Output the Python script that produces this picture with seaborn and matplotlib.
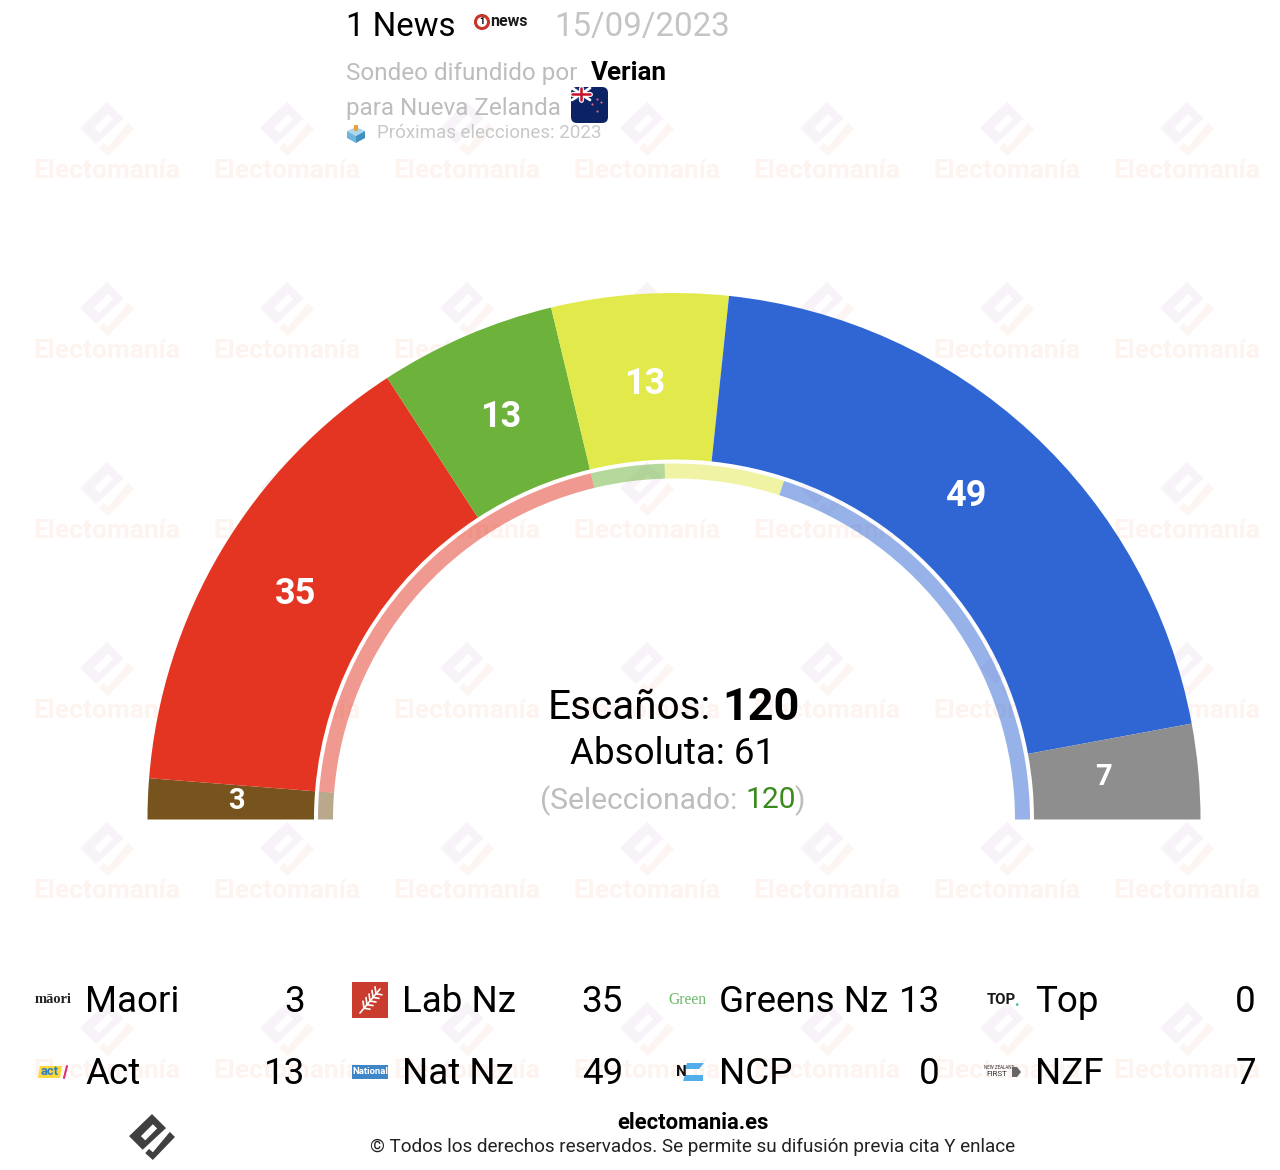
import matplotlib
matplotlib.use("Agg")
import matplotlib.pyplot as plt
import numpy as np
import seaborn as sns
from matplotlib.patches import Circle, FancyBboxPatch, Polygon, Rectangle

sns.set_theme(style="white")
plt.rcParams["font.family"] = ["Roboto", "DejaVu Sans"]

# seats, in hemicycle order
parties = ["Maori", "Lab Nz", "Greens Nz", "Act", "Nat Nz", "NCP", "Top", "NZF"]
seats = [3, 35, 13, 13, 49, 0, 0, 7]
previous_seats = [3, 48, 8, 13, 48, 0, 0, 0]
party_colors = ["#77531D", "#E33522", "#6DB33B", "#E2E94A", "#3066D4", "#D0D0D0", "#404040", "#8E8E8E"]

# legend reads by column
legend_rows = [["Maori", "Lab Nz", "Greens Nz", "Top"], ["Act", "Nat Nz", "NCP", "NZF"]]

total_seats = 120
majority = 61
selected = 120
pollster = "Verian"
media = "1 News"
poll_date = "15/09/2023"

GREY = "#BDBDBD"
palette = sns.color_palette(party_colors)
seat_lookup = dict(zip(parties, seats))

fig = plt.figure(figsize=(12.8, 11.7), dpi=100)
ax = fig.add_axes([0, 0, 1, 1])


def put(x, y, s, size, color="black", ha="left", weight="normal", z=5, **kw):
    # size in pixels, y is the visual middle of the text
    return ax.text(x, y + 2.5, s, fontsize=size * 0.72, color=color, ha=ha, va="center",
                   fontweight=weight, zorder=z, **kw)


# logo outline in pixels around its own centre
DIAMOND = [(0, -27), (16.5, -10.5), (-11, 15), (-27, -1)]
HOLE = [(-13, -1), (1, -15), (6, -10), (-8, 4)]
HOOK = [(21, -6), (27, 0), (1, 27), (-8, 19), (-3.5, 14), (1, 18)]


def draw_logo(cx, cy, scale, c1, c2, hole, z):
    shift = lambda pts: [(cx + a * scale, cy + b * scale) for a, b in pts]
    ax.add_patch(Polygon(shift(DIAMOND), fc=c1, ec="none", zorder=z))
    ax.add_patch(Polygon(shift(HOLE), fc=hole, ec="none", zorder=z))
    ax.add_patch(Polygon(shift(HOOK), fc=c2, ec="none", zorder=z))


# watermark grid
for wx in range(107, 1280, 180):
    for wy in range(170, 1100, 180):
        draw_logo(wx, wy - 41, 1.0, "#F7F3F9", "#FCF5F2", "#FFFFFF", 0)
        put(wx, wy - 1, "Electomanía", 26.4, color="#FDF3EF", ha="center", weight="bold", z=0)

# main arc, the second half of the pie stays empty
wedges, _ = ax.pie(seats + [sum(seats)], colors=list(palette) + ["white"], startangle=180,
                   center=(674, 819.5), radius=526.5, frame=True,
                   wedgeprops={"width": 166.5, "linewidth": 0})
wedges[-1].remove()

# thin ring with the previous seats
ring, _ = ax.pie(previous_seats + [sum(previous_seats)], colors=list(palette) + ["white"], startangle=180,
                 center=(674, 819.5), radius=356, frame=True,
                 wedgeprops={"width": 15, "linewidth": 0, "alpha": 0.5})
ring[-1].remove()

ax.set_xlim(0, 1280)
ax.set_ylim(1170, 0)
ax.axis("off")

# seat numbers in the middle of each wedge
nudge_x = [1, -1, 0, -1, -5, 0, 0, -8]
nudge_y = [-4, -4, -2, 0, -4, 0, 0, -5]
for wedge, n, dx, dy in zip(wedges, seats, nudge_x, nudge_y):
    if n == 0:
        continue
    ang = np.deg2rad((wedge.theta1 + wedge.theta2) / 2)
    x = 674 + 439 * np.cos(ang) + dx
    y = 819.5 + 439 * np.sin(ang) + dy
    put(x, y, str(n), 36 if n > 10 else 29, color="white", ha="center", weight="bold")

# centre block
put(711, 705, "Escaños:", 40.5, ha="right")
put(722, 705, str(total_seats), 45, weight="bold")
put(673, 752, f"Absoluta: {majority}", 36.7, ha="center")
put(737, 798, "(Seleccionado:", 30, color=GREY, ha="right")
put(745, 798, str(selected), 30, color="#3B8A1E")
put(794, 798, ")", 30, color=GREY)

# header
put(346, 25, media, 33)
put(554, 25, poll_date, 33, color="#C4C4C4")
ax.add_patch(Circle((482, 22), 6.5, fc="white", ec="#C8352B", lw=2.2, zorder=5))
put(482, 19.5, "1", 9, ha="center", weight="bold", z=6)
put(490, 19, "news", 16, color="#1A1A1A", weight="bold")
put(346, 71, "Sondeo difundido por", 24.2, color=GREY)
put(591, 71, pollster, 26, weight="bold")
put(346, 106, "para Nueva Zelanda", 24.2, color=GREY)
put(377, 131, "Próximas elecciones: 2023", 18.8, color="#C8C8C8")

# flag icon
ax.add_patch(FancyBboxPatch((571, 87), 37, 36, boxstyle="round,pad=0,rounding_size=6", fc="#0B2265", ec="none", zorder=5))
ax.add_patch(Rectangle((572, 88), 18, 12, fc="#1E3A7A", ec="none", zorder=5))
ax.plot([572, 590], [88, 100], color="white", lw=2, zorder=6)
ax.plot([572, 590], [100, 88], color="white", lw=2, zorder=6)
ax.plot([581, 581], [88, 100], color="white", lw=3.5, zorder=6)
ax.plot([572, 590], [94, 94], color="white", lw=3.5, zorder=6)
ax.plot([581, 581], [88, 100], color="#C8102E", lw=1.8, zorder=7)
ax.plot([572, 590], [94, 94], color="#C8102E", lw=1.8, zorder=7)
ax.scatter([597, 601, 592, 597], [99, 102, 104, 111], s=2.5, color="#E8607A", linewidths=0, zorder=6)

# ballot box icon
ax.add_patch(Polygon([(347, 131), (356, 127), (365, 131), (356, 136)], fc="#A9D8EE", ec="none", zorder=5))
ax.add_patch(Polygon([(347, 131), (356, 136), (356, 143), (347, 138)], fc="#6FB4DA", ec="none", zorder=5))
ax.add_patch(Polygon([(365, 131), (356, 136), (356, 143), (365, 138)], fc="#3F8FC2", ec="none", zorder=5))
ax.add_patch(Rectangle((354, 125), 4, 6, fc="#E8A33D", ec="none", zorder=6))

# legend
col_name_x = [85, 402, 719, 1035]
col_value_x = [305, 623, 940, 1256]
row_y = [1000, 1072]
for ry, row in zip(row_y, legend_rows):
    for cn, cv, name in zip(col_name_x, col_value_x, row):
        put(cn, ry, name, 36.7)
        put(cv, ry, str(seat_lookup[name]), 36.7, ha="right")

# party icons
put(53, 997, "māori", 14.5, color="#222222", ha="center", weight="bold", family="Liberation Serif")
ax.add_patch(Rectangle((352, 982), 36, 36, fc="#C93C2E", ec="none", zorder=5))
ax.plot([360, 380], [1013, 989], color="white", lw=1.2, zorder=6)
for t in [0.2, 0.35, 0.5, 0.65, 0.8]:
    fx = 360 + 20 * t
    fy = 1013 - 24 * t
    ax.plot([fx, fx + 6], [fy, fy + 1], color="white", lw=1.2, zorder=6)
    ax.plot([fx, fx - 1], [fy, fy - 7], color="white", lw=1.2, zorder=6)
put(687, 998, "Green", 15.5, color="#6DB96A", ha="center", family="Liberation Serif")
put(1001, 998, "TOP", 15, color="#1A1A1A", ha="center", weight="bold")
put(1015, 999, ".", 16, color="#4DB89A", weight="bold")
ax.add_patch(Polygon([(40, 1066), (62, 1066), (60, 1078), (38, 1078)], fc="#FFD93B", ec="none", zorder=5))
put(50, 1069, "act", 13, color="#2F7FC1", ha="center", weight="bold", z=6)
ax.plot([64, 67], [1078, 1066], color="#E0307A", lw=1.5, zorder=6)
ax.add_patch(Rectangle((352, 1065), 36, 14, fc="#3F86C8", ec="none", zorder=5))
put(370, 1069.5, "National", 9.5, color="white", ha="center", weight="bold", z=6)
put(681, 1069, "N", 15, color="#111111", ha="center", weight="bold", z=6)
ax.add_patch(Polygon([(687, 1063), (704, 1063), (699, 1069), (685, 1069)], fc="#52AEEB", ec="none", zorder=5))
ax.add_patch(Polygon([(685, 1075), (703, 1075), (703, 1081), (683, 1081)], fc="#52AEEB", ec="none", zorder=5))
put(999, 1065, "NEW ZEALAND", 4.5, color="#333333", ha="center")
put(986, 1072, "FIRST", 8, color="#333333")
ax.add_patch(Polygon([(1012, 1067), (1017, 1067), (1021, 1072), (1017, 1077), (1012, 1077)], fc="#666666", ec="none", zorder=5))

# footer
draw_logo(152, 1137, 0.85, "#404040", "#404040", "#FFFFFF", 5)
put(693, 1120.5, "electomania.es", 22, ha="center", weight="bold")
put(693, 1144.5, "© Todos los derechos reservados. Se permite su difusión previa cita Y enlace", 18.9, color="#222222", ha="center")

fig.savefig("out.png", dpi=100, facecolor="white")
